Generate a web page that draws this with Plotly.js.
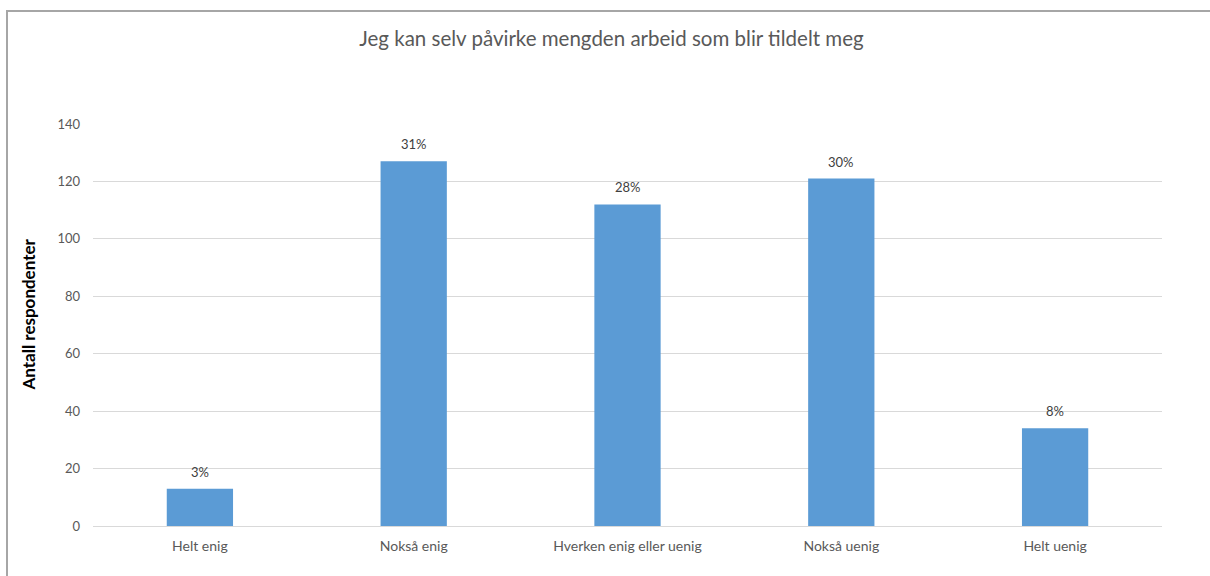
<!DOCTYPE html>
<html>
<head>
<meta charset="utf-8">
<script src="https://cdn.plot.ly/plotly-3.0.1.min.js"></script>
<style>
html,body{margin:0;padding:0;background:#fff;overflow:hidden;}
#frame{position:absolute;left:6px;top:10px;width:1300px;height:700px;border-left:2px solid #a6a6a6;border-top:2px solid #a6a6a6;}
#chart{position:absolute;left:0;top:0;width:1210px;height:576px;}
</style>
</head>
<body>
<div id="frame"></div>
<div id="chart"></div>
<script>
const categories = ["Helt enig", "Nokså enig", "Hverken enig eller uenig", "Nokså uenig", "Helt uenig"];
const respondents = [13, 127, 112, 121, 34];
const percentLabels = ["3%", "31%", "28%", "30%", "8%"];
const yTicks = [0, 20, 40, 60, 80, 100, 120, 140];
const yAxisTitle = "Antall respondenter";

const font = "Lato, 'Open Sans', sans-serif";

const trace = {
  type: "bar",
  x: categories,
  y: respondents,
  marker: {color: "#5B9BD5"},
  hoverinfo: "x+y"
};

const annotations = categories.map((c, i) => ({
  x: c, y: respondents[i], xref: "x", yref: "y",
  text: percentLabels[i], showarrow: false,
  yanchor: "middle", yshift: 17,
  font: {family: font, size: 13, color: "#404040"}
}));

annotations.push({
  xref: "paper", yref: "paper",
  x: -0.0605, y: 0.527,
  xanchor: "center", yanchor: "middle",
  textangle: -90, showarrow: false,
  text: "<b>" + yAxisTitle + "</b>",
  font: {family: font, size: 17, color: "#000000"}
});

const layout = {
  width: 1210,
  height: 576,
  margin: {l: 93, r: 48, t: 124, b: 50},
  paper_bgcolor: "rgba(0,0,0,0)",
  plot_bgcolor: "rgba(0,0,0,0)",
  bargap: 0.69,
  showlegend: false,
  annotations: annotations,
  title: {
    text: "Jeg kan selv påvirke mengden arbeid som blir tildelt meg",
    font: {family: font, size: 20.5, color: "#595959"},
    x: 0.485, xanchor: "center", xref: "paper",
    y: 0.932, yanchor: "middle", yref: "container"
  },
  xaxis: {
    type: "category",
    showgrid: false,
    showline: false,
    zeroline: false,
    ticks: "",
    ticklabelstandoff: 10,
    tickfont: {family: font, size: 14, color: "#595959"},
    fixedrange: true
  },
  yaxis: {
    range: [0, 140],
    tickvals: yTicks,
    ticktext: yTicks.map(String),
    showgrid: true,
    gridcolor: "#d9d9d9",
    gridwidth: 1,
    zeroline: true,
    zerolinecolor: "#d9d9d9",
    zerolinewidth: 1,
    showline: false,
    ticks: "",
    ticklabelstandoff: 12,
    tickfont: {family: font, size: 13, color: "#595959"},
    automargin: false,
    fixedrange: true
  }
};

Plotly.newPlot("chart", [trace], layout, {displayModeBar: false, staticPlot: true});
</script>
</body>
</html>
